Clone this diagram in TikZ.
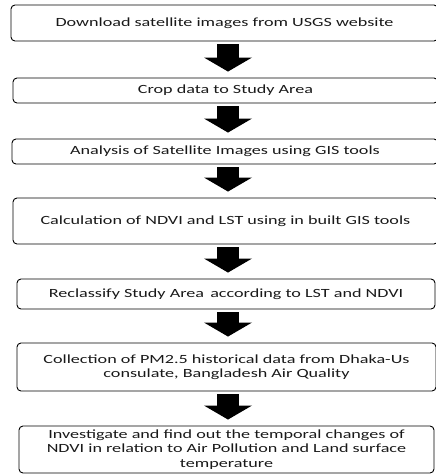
\documentclass[tikz,border=0pt]{standalone}
\usepackage{fontspec}
\setmainfont{Carlito}[FakeStretch=1.45]
\usetikzlibrary{arrows.meta}

\begin{document}
\begin{tikzpicture}[x=1pt, y=-1pt,
    stepbox/.style={draw, rounded corners=4pt, line width=0.9pt, inner sep=0pt,
      align=center, font=\fontsize{12.5}{14.5}\selectfont, text=black!90},
    flowarrow/.style={line width=22pt, shorten <=3pt, shorten >=6pt,
      -{Triangle[width=48pt, length=14pt, line width=0pt 0 0]}}]
    \useasboundingbox (0,0) rectangle (436,475);
    \coordinate (ax) at (228,0);

    \node[stepbox, minimum width=427pt, minimum height=36pt] (b1) at (224.5,23)
      {Download satellite images from USGS website};
    \node[stepbox, minimum width=425pt, minimum height=25pt] (b2) at (225.5,90.5)
      {Crop data to Study Area};
    \node[stepbox, minimum width=426pt, minimum height=25pt] (b3) at (225,151.5)
      {Analysis of Satellite Images using GIS tools};
    \node[stepbox, minimum width=425pt, minimum height=46pt] (b4) at (225.5,221)
      {Calculation of NDVI and LST using in built GIS tools};
    \node[stepbox, minimum width=418pt, minimum height=30pt] (b5) at (226,294)
      {Reclassify Study Area\, according to LST and NDVI};
    \node[stepbox, minimum width=419pt, minimum height=48pt] (b6) at (226.5,367)
      {Collection of PM2.5 historical data from Dhaka-Us\\ consulate, Bangladesh Air Quality};
    \node[stepbox, minimum width=415pt, minimum height=47pt] (b7) at (226.5,449.5)
      {Investigate and find out the temporal changes of\\ NDVI in relation to Air Pollution and Land surface\\ temperature};

    \foreach \a/\b in {b1/b2,b2/b3,b3/b4,b4/b5,b5/b6,b6/b7}
      {\draw[flowarrow] (\a.south -| ax) -- (\b.north -| ax);}
\end{tikzpicture}
\end{document}
